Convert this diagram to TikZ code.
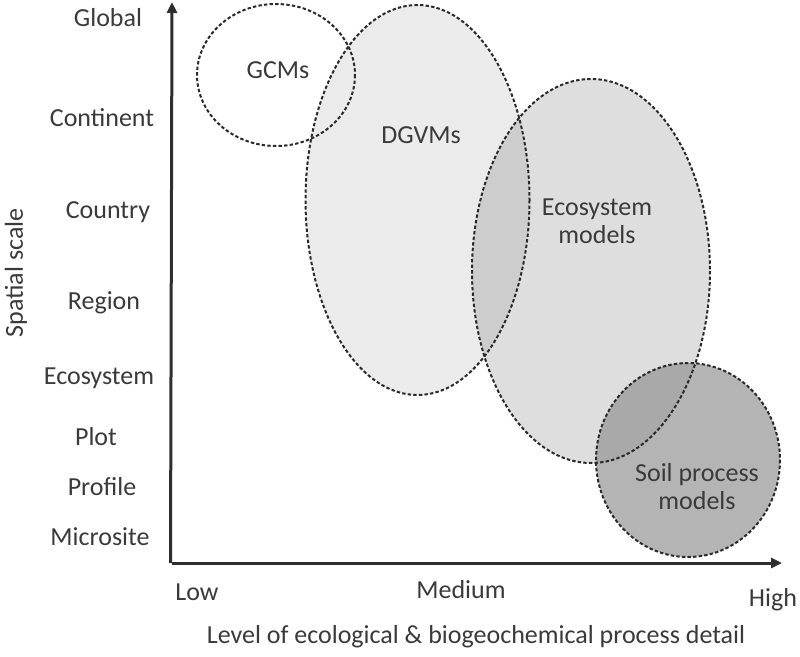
\documentclass[tikz,border=0pt]{standalone}
\usepackage{fontspec}
\setmainfont{Carlito}
\usetikzlibrary{arrows.meta}
\definecolor{txt}{HTML}{3A3A3A}
\definecolor{axis}{HTML}{2E2E2E}
\definecolor{dashc}{HTML}{2A2A2A}
\definecolor{soilc}{HTML}{B4B4B4}
\tikzset{
  lab/.style={text=txt, font=\fontsize{26}{31}\selectfont, inner sep=0pt},
  zone/.style={draw=dashc, line width=2pt, dash pattern=on 3.4pt off 2.2pt},
  axisline/.style={draw=axis, line width=3pt, -{Triangle[length=11pt,width=10pt]}},
}
\begin{document}
\begin{tikzpicture}[x=1pt,y=-1pt]
\useasboundingbox (0,0) rectangle (800,656);
% zones
\fill[black, fill opacity=0.08] (417.5,200) ellipse [x radius=112, y radius=195];
\fill[black, fill opacity=0.13] (591,271) ellipse [x radius=119, y radius=192];
\fill[soilc] (688,460) ellipse [x radius=92, y radius=97];
\begin{scope}
\clip (688,460) ellipse [x radius=92, y radius=97];
\fill[black, fill opacity=0.06] (591,271) ellipse [x radius=119, y radius=192];
\end{scope}
\draw[zone] (417.5,200) ellipse [x radius=112, y radius=195];
\draw[zone] (591,271) ellipse [x radius=119, y radius=192];
\draw[zone] (688,460) ellipse [x radius=92, y radius=97];
\draw[zone] (276,75) ellipse [x radius=79, y radius=71];
% zone labels
\node[lab] (gcm) at (278,70) {GCMs};
\node[lab] (dgvm) at (421,135) {DGVMs};
\node[lab, align=center] (eco) at (597,221) {Ecosystem\\[-3pt]models};
\node[lab, align=center] (soil) at (697,487) {Soil process\\[-3pt]models};
% axes
\coordinate (o) at (172,563);
\coordinate (ytip) at (172,2);
\coordinate (xtip) at (782,563);
\draw[axisline] ([xshift=-1.5pt]o) -- (ytip);
\draw[axisline] (o) -- (xtip);
% y labels
\node[lab] (l1) at (108,18) {Global};
\node[lab] (l2) at (102,118) {Continent};
\node[lab] (l3) at (108,212) {Country};
\node[lab] (l4) at (104,303) {Region};
\node[lab] (l5) at (99,378) {Ecosystem};
\node[lab] (l6) at (96,437) {Plot};
\node[lab] (l7) at (102,487) {Profile};
\node[lab] (l8) at (100,537) {Microsite};
\node[lab, rotate=90] (ylab) at (16,273) {Spatial scale};
% x labels
\node[lab] (x1) at (197,592) {Low};
\node[lab] (x2) at (461,590) {Medium};
\node[lab] (x3) at (773,600) {High};
\node[lab] (xlab) at (476,637) {Level of ecological \& biogeochemical process detail};
\end{tikzpicture}
\end{document}
